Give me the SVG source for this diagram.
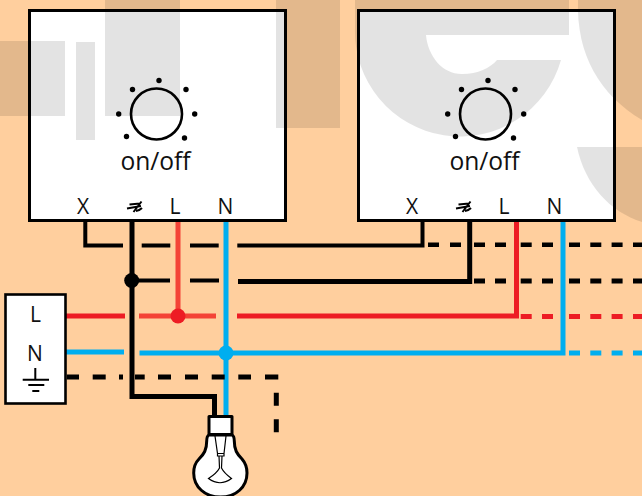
<svg xmlns="http://www.w3.org/2000/svg" width="642" height="496" viewBox="0 0 642 496">
<style>
.bg{fill:#000;fill-opacity:.11}
.box{fill:#fff;stroke:#000;stroke-width:3}
text{font-family:"Open Sans","Noto Sans",sans-serif;fill:#111;text-anchor:middle}
.t{font-size:21px}
.big{font-size:24.600px}
.w{fill:none;stroke-linecap:butt;stroke-linejoin:miter}
.k{stroke:#000}
.r{stroke:#ED1C24;stroke-width:5}
.r2{stroke:#F44336;stroke-width:5}
.b{stroke:#00AEEF;stroke-width:5}
.d{fill:#000}
.sym{fill:none;stroke:#000;stroke-width:2}
.bl{fill:#fff;stroke:#000;stroke-width:3;stroke-linejoin:round}
.fil{fill:none;stroke:#000;stroke-width:1.200}
</style>
<defs>
<g id="dial">
<circle cx="156.500" cy="114" r="25.500" fill="none" stroke="#000" stroke-width="2.600"/>
<circle class="d" cx="159" cy="80.500" r="2.700"/><circle class="d" cx="132.500" cy="89.500" r="2.700"/><circle class="d" cx="186" cy="89.500" r="2.700"/><circle class="d" cx="118.700" cy="114" r="2.700"/><circle class="d" cx="194.700" cy="114" r="2.700"/><circle class="d" cx="126.500" cy="136.500" r="2.700"/><circle class="d" cx="184.500" cy="138" r="2.700"/>
</g>
<g id="sym" class="sym"><path d="M127 208.500L141 206M129.500 204.500L140 203.500M133.500 212L141.500 201.500M136 211Q139.500 210.500 142 208"/></g>
</defs>
<rect id="background" width="642" height="496" fill="#FFCF9E"/>
<rect class="box" x="29.500" y="10.500" width="256" height="210"/>
<rect class="box" x="358.500" y="10.500" width="256" height="210"/>
<g id="watermark">
<rect class="bg" x="0" y="41" width="65" height="75"/>
<rect class="bg" x="76" y="42" width="19" height="98"/>
<rect class="bg" x="105" y="0" width="75" height="116"/>
<rect class="bg" x="276" y="0" width="64" height="128"/>
<path class="bg" d="M355 0V28A105 105 0 0 0 561 60H497C490 68 478 74 462 74C442 74 428 56 426 35H569V0Z"/>
<path class="bg" d="M578 0C576 55 600 95 642 120V0Z"/>
<path class="bg" d="M577 147C585 185 610 212 642 222V147Z"/>
</g>
<g id="switch-1">
<rect x="29.500" y="10.500" width="256" height="210" fill="none" stroke="#000" stroke-width="3"/>
<use href="#dial"/>
<text class="big" x="155.500" y="170">on/off</text>
<text class="t" x="83" y="214">X</text>
<text class="t" x="175" y="214">L</text>
<text class="t" x="225.500" y="214">N</text>
<use href="#sym"/>
</g>
<g id="switch-2">
<rect x="358.500" y="10.500" width="256" height="210" fill="none" stroke="#000" stroke-width="3"/>
<use href="#dial" x="329"/>
<text class="big" x="484.500" y="170">on/off</text>
<text class="t" x="412" y="214">X</text>
<text class="t" x="504" y="214">L</text>
<text class="t" x="554.500" y="214">N</text>
<use href="#sym" x="329"/>
</g>
<g id="connectors">
<path class="w r2" d="M178 222V316M139 316H216"/>
<path class="w r" d="M66 316H125M237 316H516.500V222"/>
<path class="w r" d="M520.700 316.500H531.700M542 316.500H553M569 316.500H580M590.300 316.500H601.300M611.600 316.500H622.600M633 316.500H642"/>
<path class="w b" d="M226 222V416M66 352H124M139.500 353H563V222"/>
<path class="w b" d="M569 353H580M590.300 353H601.300M611.600 353H622.600M633 353H642"/>
<g class="w k" stroke-width="4">
<path d="M85.300 222V245.500H123M141.700 245.500H170.300M190 245.500H218.700M237.300 245.500H422.500V222"/>
<path stroke-width="4.500" d="M428 244.800H439M450 244.800H461M474 244.800H485M495 244.800H506M520.700 244.800H531.700M542 244.800H553M569 244.800H580M590.300 244.800H601.300M611.600 244.800H622.600M633 244.800H642"/>
</g>
<g class="w k" stroke-width="5">
<path d="M132 222V396.500H214.500V416"/>
<path stroke-width="4" d="M132 280.500H170M190 280.500H219"/>
<path d="M238 281.500H469.700V222"/>
<path d="M474 281H485M495 281H506M520.700 281H531.700M542 281H553M569 281H580M590.300 281H601.300M611.600 281H622.600M633 281H642"/>
<path d="M66.700 377H79M92.700 377H105.700M119 377H123M135 377H144.700M158 377H171M185 377H198M211.700 377H224.700M238.300 377H251M265 377H278.300M276.300 392.700V405.700M276.300 419.300V432.300"/>
</g>
<circle cx="131.700" cy="280.500" r="7.500" fill="#000"/>
<circle cx="178" cy="316" r="7.500" fill="#ED1C24"/>
<circle cx="226" cy="353" r="7.500" fill="#00AEEF"/>
</g>
<g id="source">
<rect x="5.500" y="294.500" width="60" height="109" fill="#fff" stroke="#000" stroke-width="2.600"/>
<text class="t" x="35.500" y="322">L</text>
<text class="t" x="35" y="361">N</text>
<path d="M35.300 368V379.700M22.700 379.700H49M28.300 385H44.300M32.300 391H39.300" fill="none" stroke="#000" stroke-width="2"/>
</g>
<g id="lamp">
<path class="bl" d="M209 435C207 436 206.700 438 206.700 441C206.700 450 204 454 199 459C195 463 193.700 468 193.700 473C193.700 487 205 497 220.500 497C236 497 247 487 247 473C247 468 245.500 463 242 459C237 454 234.300 450 234.300 441C234.300 438 234 436 232 435Z"/>
<rect class="bl" x="209" y="416.500" width="23" height="18"/>
<path class="fil" d="M215 436L217.500 453.500H224L226 436M217.500 453.500V456H224V453.500M219 456L219.500 468Q217 473 208.500 478.500Q220 487 231.500 478.500Q224 473 221.500 468L222 456"/>
</g>
</svg>
